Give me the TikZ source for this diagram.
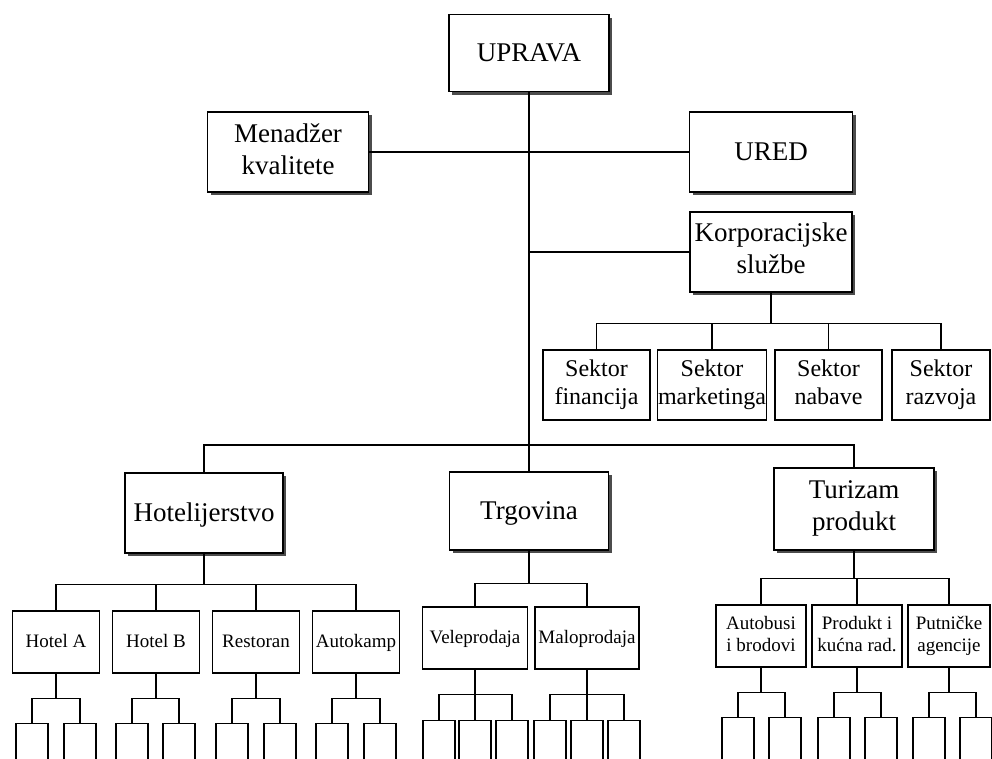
\documentclass[tikz,border=0pt]{standalone}
\usepackage{fontspec}
\setmainfont{Liberation Serif}
\usetikzlibrary{shapes,shadows}
\newcommand{\boxstrut}{\rule[-0.25em]{0pt}{1.1em}}

\begin{document}
\begin{tikzpicture}[x=1pt,y=-1pt,line width=1.2pt]
        \tikzstyle{every node}+=[inner sep=0pt]
        \tikzstyle{bigbox}=[draw,fill=white,align=center,font=\fontsize{27}{32}\selectfont,execute at begin node=\boxstrut,execute at end node=\boxstrut,drop shadow={shadow xshift=3pt,shadow yshift=-3pt,fill=black!70,opacity=1}]
        \tikzstyle{sektorbox}=[draw,fill=white,align=center,minimum height=70pt,font=\fontsize{24}{28}\selectfont,execute at begin node=\boxstrut,execute at end node=\boxstrut]
        \tikzstyle{subbox}=[draw,fill=white,align=center,minimum height=62pt,font=\fontsize{19}{22}\selectfont,execute at begin node=\boxstrut,execute at end node=\boxstrut]
        \tikzstyle{leafbox}=[draw,fill=white,minimum width=32pt,minimum height=50pt,anchor=north]
        \useasboundingbox (0,0) rectangle (992,758);
        \clip (0,0) rectangle (992,758);
        \node [bigbox,minimum width=160pt,minimum height=77pt] (upr) at (529,53) {UPRAVA};
        \node [bigbox,minimum width=161pt,minimum height=80pt] (mk) at (288,152) {Menadžer\\kvalitete};
        \node [bigbox,minimum width=163pt,minimum height=80pt] (ured) at (771,152) {URED};
        \node [bigbox,minimum width=162pt,minimum height=80pt] (korp) at (771,252) {Korporacijske\\službe};
        \node [bigbox,minimum width=158pt,minimum height=80pt] (hot) at (204,513) {Hotelijerstvo};
        \node [bigbox,minimum width=159pt,minimum height=78pt] (trg) at (529,511) {Trgovina};
        \node [bigbox,minimum width=160pt,minimum height=82pt] (tur) at (854,509) {Turizam\\produkt};
        \node [sektorbox,minimum width=107pt] (sf) at (596.5,385) {Sektor\\financija};
        \node [sektorbox,minimum width=109pt] (sm) at (712,385) {Sektor\\marketinga};
        \node [sektorbox,minimum width=107pt] (sn) at (828.5,385) {Sektor\\nabave};
        \node [sektorbox,minimum width=98pt] (sr) at (941,385) {Sektor\\razvoja};
        \node [subbox,minimum width=87pt] (ha) at (56,642) {Hotel A};
        \node [subbox,minimum width=87pt] (hb) at (156,642) {Hotel B};
        \node [subbox,minimum width=87pt] (res) at (256,642) {Restoran};
        \node [subbox,minimum width=87pt] (ak) at (356,642) {Autokamp};
        \node [subbox,minimum width=105pt] (vp) at (475,638) {Veleprodaja};
        \node [subbox,minimum width=104pt] (mp) at (587,638) {Maloprodaja};
        \node [subbox,minimum width=90pt] (ab) at (761,636) {Autobusi\\i brodovi};
        \node [subbox,minimum width=90pt] (pk) at (857,636) {Produkt i\\kućna rad.};
        \node [subbox,minimum width=82pt] (pa) at (949,636) {Putničke\\agencije};
        \node [leafbox] (ha1) at (32,723) {};
        \node [leafbox] (ha2) at (80,723) {};
        \node [leafbox] (hb1) at (132,723) {};
        \node [leafbox] (hb2) at (179,723) {};
        \node [leafbox] (res1) at (232,723) {};
        \node [leafbox] (res2) at (280,723) {};
        \node [leafbox] (ak1) at (332,723) {};
        \node [leafbox] (ak2) at (380,723) {};
        \node [leafbox] (vp1) at (439,720) {};
        \node [leafbox] (vp2) at (475,720) {};
        \node [leafbox] (vp3) at (512,720) {};
        \node [leafbox] (mp1) at (550,720) {};
        \node [leafbox] (mp2) at (587,720) {};
        \node [leafbox] (mp3) at (624,720) {};
        \node [leafbox] (ab1) at (738,717) {};
        \node [leafbox] (ab2) at (785,717) {};
        \node [leafbox] (pk1) at (834,717) {};
        \node [leafbox] (pk2) at (881,717) {};
        \node [leafbox] (pa1) at (929,717) {};
        \node [leafbox] (pa2) at (976,717) {};
        \coordinate (bar) at (529,445);
        \draw [black] (mk.east) -- (ured.west);
        \draw [black] (upr.south) -- (trg.north);
        \draw [black] (korp.west) -- (korp.west -| upr.south);
        \draw [black] (hot.north) |- (bar) -| (tur.north);
        
        \draw [black] (korp.south) -- ++(0,31) -| (sf.north);
        \draw [black] (korp.south) -- ++(0,31) -| (sm.north);
        \draw [black] (korp.south) -- ++(0,31) -| (sn.north);
        \draw [black] (korp.south) -- ++(0,31) -| (sr.north);
        
        \draw [black] (hot.south) -- ++(0,31) -| (ha.north);
        \draw [black] (hot.south) -- ++(0,31) -| (hb.north);
        \draw [black] (hot.south) -- ++(0,31) -| (res.north);
        \draw [black] (hot.south) -- ++(0,31) -| (ak.north);
        \draw [black] (trg.south) -- ++(0,33) -| (vp.north);
        \draw [black] (trg.south) -- ++(0,33) -| (mp.north);
        \draw [black] (tur.south) -- ++(0,28) -| (ab.north);
        \draw [black] (tur.south) -- ++(0,28) -| (pk.north);
        \draw [black] (tur.south) -- ++(0,28) -| (pa.north);
        
        \draw [black] (ha.south) -- ++(0,25) -| (ha1.north);
        \draw [black] (ha.south) -- ++(0,25) -| (ha2.north);
        \draw [black] (hb.south) -- ++(0,25) -| (hb1.north);
        \draw [black] (hb.south) -- ++(0,25) -| (hb2.north);
        \draw [black] (res.south) -- ++(0,25) -| (res1.north);
        \draw [black] (res.south) -- ++(0,25) -| (res2.north);
        \draw [black] (ak.south) -- ++(0,25) -| (ak1.north);
        \draw [black] (ak.south) -- ++(0,25) -| (ak2.north);
        \draw [black] (vp.south) -- ++(0,25) -| (vp1.north);
        \draw [black] (vp.south) -- (vp2.north);
        \draw [black] (vp.south) -- ++(0,25) -| (vp3.north);
        \draw [black] (mp.south) -- ++(0,25) -| (mp1.north);
        \draw [black] (mp.south) -- (mp2.north);
        \draw [black] (mp.south) -- ++(0,25) -| (mp3.north);
        \draw [black] (ab.south) -- ++(0,25) -| (ab1.north);
        \draw [black] (ab.south) -- ++(0,25) -| (ab2.north);
        \draw [black] (pk.south) -- ++(0,25) -| (pk1.north);
        \draw [black] (pk.south) -- ++(0,25) -| (pk2.north);
        \draw [black] (pa.south) -- ++(0,25) -| (pa1.north);
        \draw [black] (pa.south) -- ++(0,25) -| (pa2.north);
        
\end{tikzpicture}
\end{document}
